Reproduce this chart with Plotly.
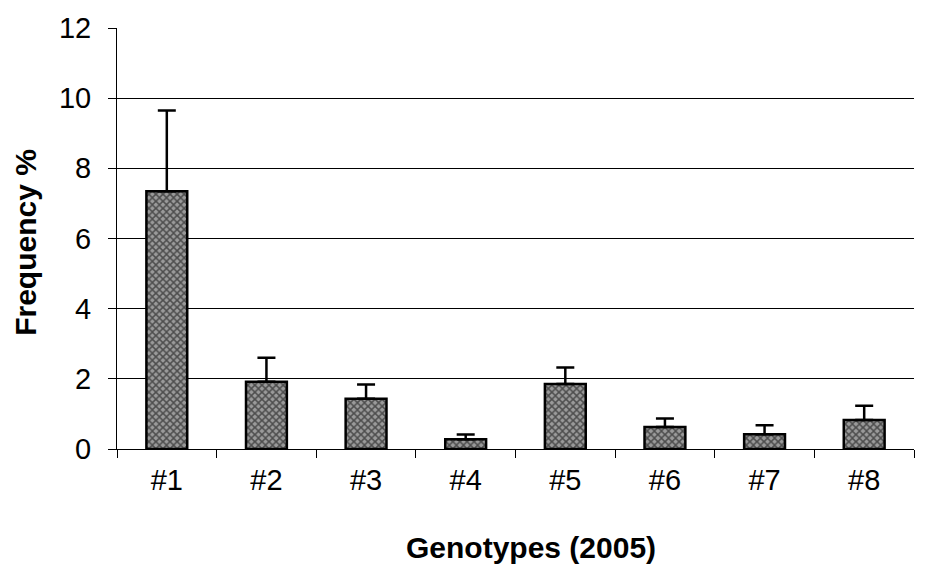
import plotly.graph_objects as go

genotypes = ["#1", "#2", "#3", "#4", "#5", "#6", "#7", "#8"]
frequency = [7.35, 1.92, 1.43, 0.28, 1.85, 0.63, 0.42, 0.83]
error_plus = [2.30, 0.68, 0.41, 0.13, 0.47, 0.24, 0.26, 0.40]
y_ticks = [0, 2, 4, 6, 8, 10, 12]

fig = go.Figure()
fig.add_trace(go.Bar(
    x=genotypes,
    y=frequency,
    marker=dict(
        color="#707070",
        line=dict(color="black", width=2.5),
        pattern=dict(shape="x", fgcolor="black", bgcolor="#9a9a9a", size=5, solidity=0.5),
    ),
    error_y=dict(type="data", array=error_plus, arrayminus=[0] * len(error_plus),
                 symmetric=False, color="black", thickness=2.5, width=9),
))

fig.update_layout(
    width=920, height=559,
    margin=dict(l=109, r=14, t=20, b=118),
    plot_bgcolor="white", paper_bgcolor="white",
    bargap=0.59,
    showlegend=False,
    font=dict(family="Liberation Sans, Arial", size=29, color="black"),
    xaxis=dict(
        automargin=False,
        showline=True, linecolor="black", linewidth=1,
        ticks="outside", tickson="boundaries", ticklen=8, tickcolor="black",
        showgrid=False, tickfont=dict(size=29), ticklabelstandoff=5,
    ),
    yaxis=dict(
        automargin=False,
        range=[0, 12], tickvals=y_ticks,
        showline=True, linecolor="black", linewidth=1,
        ticks="outside", ticklen=8, tickcolor="black",
        showgrid=True, gridcolor="black", gridwidth=1,
        zeroline=False, tickfont=dict(size=29), ticklabelstandoff=11,
    ),
    annotations=[
        dict(text="<b>Genotypes (2005)</b>", xref="paper", yref="paper",
             x=0.5194, y=-0.235, xanchor="center", yanchor="middle",
             showarrow=False, font=dict(size=30)),
        dict(text="<b>Frequency %</b>", xref="paper", yref="paper",
             x=-0.1142, y=0.492, xanchor="center", yanchor="middle",
             textangle=-90, showarrow=False, font=dict(size=30)),
    ],
)

fig.write_html("out.html")
